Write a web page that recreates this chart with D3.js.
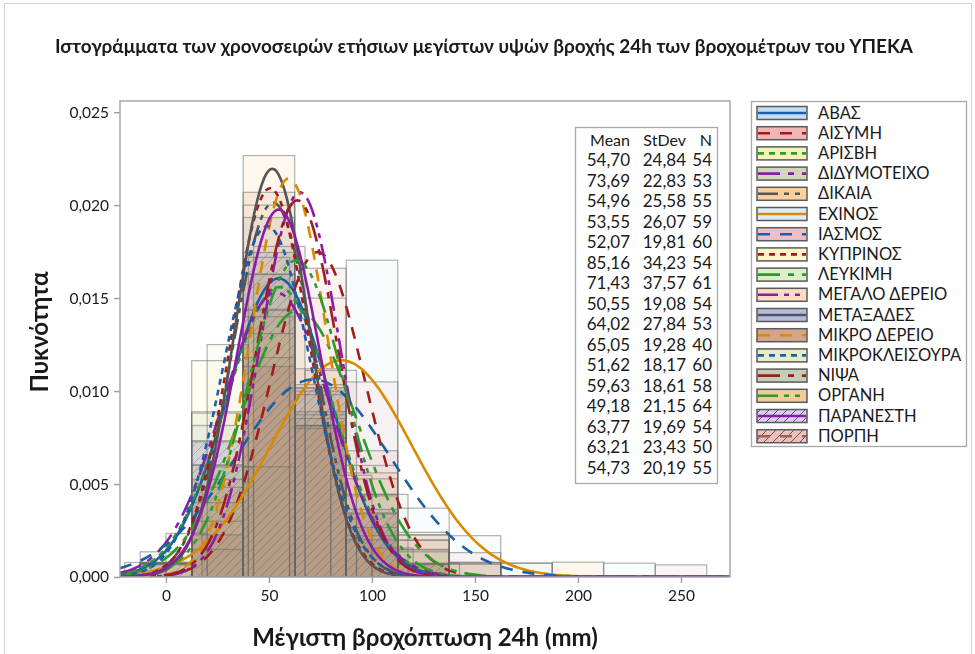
<!DOCTYPE html>
<html>
<head>
<meta charset="utf-8">
<script src="https://cdn.jsdelivr.net/npm/d3@7"></script>
<style>
  body { margin: 0; background: #fff; }
  text { font-family: Lato, "Open Sans", sans-serif; fill: #1a1a1a; }
</style>
</head>
<body>
<svg id="chart" width="975" height="654"></svg>
<script>
// Stations (legend order) and their summary statistics (table order)
const stations = ["ΑΒΑΣ", "ΑΙΣΥΜΗ", "ΑΡΙΣΒΗ", "ΔΙΔΥΜΟΤΕΙΧΟ", "ΔΙΚΑΙΑ", "ΕΧΙΝΟΣ", "ΙΑΣΜΟΣ",
    "ΚΥΠΡΙΝΟΣ", "ΛΕΥΚΙΜΗ", "ΜΕΓΑΛΟ ΔΕΡΕΙΟ", "ΜΕΤΑΞΑΔΕΣ", "ΜΙΚΡΟ ΔΕΡΕΙΟ", "ΜΙΚΡΟΚΛΕΙΣΟΥΡΑ",
    "ΝΙΨΑ", "ΟΡΓΑΝΗ", "ΠΑΡΑΝΕΣΤΗ", "ΠΟΡΠΗ"];
const means  = [54.70, 73.69, 54.96, 53.55, 52.07, 85.16, 71.43, 50.55, 64.02, 65.05, 51.62, 59.63, 49.18, 63.77, 63.21, 54.73];
const stdevs = [24.84, 22.83, 25.58, 26.07, 19.81, 34.23, 37.57, 19.08, 27.84, 19.28, 18.17, 18.61, 21.15, 19.69, 23.43, 20.19];
const ns     = [54, 53, 55, 59, 60, 54, 61, 54, 53, 40, 60, 58, 64, 54, 50, 55];

const binStarts = [-12.5, -12.5, -12.5, -12.5, -12.5, -12.5, -12.5, -12.5, -12.5, -12.5, -12.5, -12.5, -20, -7.5, -12.5, -12.5];
const binWidths = [25, 25, 25, 25, 25, 25, 25, 25, 25, 25, 25, 25, 20, 25, 25, 25];
const counts = [
    [1, 11, 22, 12, 6, 2],
    [0, 3, 15, 22, 9, 3, 1],
    [1, 16, 18, 12, 6, 2],
    [2, 13, 24, 12, 5, 2, 1],
    [1, 9, 34, 12, 3, 1],
    [0, 2, 8, 11, 23, 5, 3, 1, 0, 1],
    [0, 8, 18, 13, 16, 3, 2, 0, 0, 0, 1],
    [1, 12, 27, 11, 3],
    [1, 8, 19, 13, 7, 3, 1, 1],
    [0, 3, 14, 15, 6, 2],
    [1, 11, 29, 15, 4],
    [0, 7, 30, 15, 5, 1],
    [1, 3, 16, 22, 13, 7, 2],
    [0, 8, 24, 15, 6, 1],
    [1, 5, 18, 14, 7, 3, 1, 0, 1],
    [1, 10, 24, 14, 5, 1]
];

const xTicks = [0, 50, 100, 150, 200, 250];
const yTicks = [0, 0.005, 0.010, 0.015, 0.020, 0.025];

// Minitab-like style cycle
const fillColors = ["#c6def2", "#f0b6b4", "#f5f2b8", "#d2d5b8", "#f9cf9c", "#dcecf5", "#eebfc6", "#fdf5c8",
    "#dcefc6", "#f9dcc6", "#b4bcdc", "#d4a58c", "#e6ecc6", "#c4cdb6", "#f0cc98", "#dccbf5", "#eec0bc"];
const lineColors = ["#1b5fa8", "#a11c1c", "#2c9a2c", "#8b1ca8", "#555555", "#d98a00", "#1b5fa8", "#a11c1c",
    "#2c9a2c", "#8b1ca8", "#555555", "#d98a00", "#1b5fa8", "#a11c1c", "#2c9a2c", "#8b1ca8", "#a06050"];
const dashes = [null, "12,10", "6,5", "22,8,6,8", "20,6,5,6,5,6", null, "12,10", "6,5",
    "22,8,6,8", "20,6,5,6,5,6", null, "12,10", "6,5", "22,8,6,8", "20,6,5,6,5,6", null, "12,10"];
const hatched = [15, 16];

const svg = d3.select("#chart");
const fmt = d => d3.format(".3f")(d).replace(".", ",");

// outer frame
svg.append("rect").attr("x", 4.5).attr("y", 3.5).attr("width", 967).attr("height", 670)
    .attr("fill", "none").attr("stroke", "#d4d4d4");

svg.append("text")
    .attr("x", 484).attr("y", 53)
    .attr("text-anchor", "middle")
    .attr("textLength", 858).attr("lengthAdjust", "spacingAndGlyphs")
    .style("font-size", "18px").style("font-weight", "bold")
    .text("Ιστογράμματα των χρονοσειρών ετήσιων μεγίστων υψών βροχής 24h των βροχομέτρων του ΥΠΕΚΑ");

const plot = { left: 120, right: 730, top: 101, bottom: 577 };
const x = d3.scaleLinear().domain([-22.3, 273.8]).range([plot.left, plot.right]);
const y = d3.scaleLinear().domain([0, 0.0256]).range([plot.bottom, plot.top]);

const defs = svg.append("defs");
defs.append("clipPath").attr("id", "plotClip").append("rect")
    .attr("x", plot.left).attr("y", plot.top)
    .attr("width", plot.right - plot.left).attr("height", plot.bottom - plot.top);

hatched.forEach(i => {
    const p = defs.append("pattern").attr("id", "hatch-" + i)
        .attr("patternUnits", "userSpaceOnUse").attr("width", 9).attr("height", 9);
    p.append("rect").attr("width", 9).attr("height", 9).attr("fill", fillColors[i]);
    p.append("path").attr("d", "M-1,10 L10,-1 M-3,3 L3,-3 M6,12 L12,6")
        .attr("stroke", "#5a5a5a").attr("stroke-width", 1);
});

const fillFor = i => hatched.includes(i) ? `url(#hatch-${i})` : fillColors[i];

const g = svg.append("g").attr("clip-path", "url(#plotClip)");
const histG = g.append("g").style("isolation", "isolate");
const edgeG = g.append("g");

// histograms: fills multiplied like stacked transparent graphs, outlines on top
means.forEach((m, i) => {
    const bins = counts[i].map((c, k) => ({
        x0: binStarts[i] + k * binWidths[i],
        x1: binStarts[i] + (k + 1) * binWidths[i],
        dens: c / (ns[i] * binWidths[i])
    })).filter(b => b.dens > 0);

    const place = sel => sel
        .attr("x", b => x(b.x0))
        .attr("y", b => y(b.dens))
        .attr("width", b => x(b.x1) - x(b.x0))
        .attr("height", b => y(0) - y(b.dens));

    histG.append("g").style("mix-blend-mode", "multiply")
        .selectAll("rect").data(bins).join("rect")
        .call(place)
        .attr("fill", fillFor(i))
        .attr("fill-opacity", hatched.includes(i) ? 0.35 : 0.17);

    edgeG.append("g").selectAll("rect").data(bins).join("rect")
        .call(place)
        .attr("fill", "none")
        .attr("stroke", "#666")
        .attr("stroke-opacity", 0.5)
        .attr("stroke-width", 1.2);
});

// fitted normal curves
const xs = d3.range(-22.3, 274, 1);
const line = d3.line().x(d => x(d[0])).y(d => y(d[1]));
means.forEach((m, i) => {
    const s = stdevs[i];
    const pts = xs.map(v => [v, Math.exp(-0.5 * ((v - m) / s) ** 2) / (s * Math.sqrt(2 * Math.PI))]);
    g.append("path")
        .attr("d", line(pts))
        .attr("fill", "none")
        .attr("stroke", lineColors[i])
        .attr("stroke-width", 2.6)
        .attr("stroke-dasharray", dashes[i]);
});

// plot frame & axes
svg.append("rect")
    .attr("x", plot.left).attr("y", plot.top)
    .attr("width", plot.right - plot.left).attr("height", plot.bottom - plot.top)
    .attr("fill", "none").attr("stroke", "#a8a8a8").attr("stroke-width", 1.5);

const xAxis = svg.append("g").attr("transform", `translate(0,${plot.bottom})`)
    .call(d3.axisBottom(x).tickValues(xTicks).tickSize(6).tickPadding(7));
const yAxis = svg.append("g").attr("transform", `translate(${plot.left},0)`)
    .call(d3.axisLeft(y).tickValues(yTicks).tickFormat(fmt).tickSize(6).tickPadding(5));
[xAxis, yAxis].forEach(a => {
    a.select(".domain").remove();
    a.selectAll("line").attr("stroke", "#a0a0a0").attr("stroke-width", 1.5);
    a.selectAll("text").style("font-size", "15.5px").style("font-family", "Lato, sans-serif").attr("fill", "#1a1a1a");
});

svg.append("text")
    .attr("x", 425).attr("y", 646)
    .attr("text-anchor", "middle")
    .style("font-size", "24px").style("font-weight", "bold")
    .text("Μέγιστη βροχόπτωση 24h (mm)");

svg.append("text")
    .attr("transform", "translate(48,332) rotate(-90)")
    .attr("text-anchor", "middle")
    .style("font-size", "24px").style("font-weight", "bold")
    .text("Πυκνότητα");

// statistics table
const tbl = svg.append("g");
tbl.append("rect").attr("x", 575.5).attr("y", 127.5).attr("width", 142).attr("height", 356)
    .attr("fill", "#fff").attr("stroke", "#a8a8a8").attr("stroke-width", 1.3);
const cols = [630, 686, 712];
["Mean", "StDev", "N"].forEach((h, c) => {
    tbl.append("text").attr("x", cols[c]).attr("y", 146).attr("text-anchor", "end")
        .style("font-size", "16px").text(h);
});
means.forEach((m, i) => {
    const rowY = 166 + i * 20.5;
    [m.toFixed(2).replace(".", ","), stdevs[i].toFixed(2).replace(".", ","), ns[i]].forEach((v, c) => {
        tbl.append("text").attr("x", cols[c]).attr("y", rowY).attr("text-anchor", "end")
            .style("font-size", "17px").text(v);
    });
});

// legend
const leg = { left: 751, top: 101, right: 966, bottom: 446 };
defs.append("clipPath").attr("id", "legClip").append("rect")
    .attr("x", leg.left).attr("y", leg.top).attr("width", leg.right - leg.left).attr("height", leg.bottom - leg.top);
svg.append("rect").attr("x", leg.left + 0.5).attr("y", leg.top + 0.5)
    .attr("width", leg.right - leg.left).attr("height", leg.bottom - leg.top)
    .attr("fill", "#fff").attr("stroke", "#a8a8a8").attr("stroke-width", 1.3);
const lg = svg.append("g").attr("clip-path", "url(#legClip)");
stations.forEach((name, i) => {
    const cy = 113 + i * 20.2;
    lg.append("rect").attr("x", 757).attr("y", cy - 6.5).attr("width", 50).attr("height", 13)
        .attr("fill", fillFor(i)).attr("stroke", "#5a5a5a").attr("stroke-width", 1.5);
    lg.append("line").attr("x1", 758).attr("x2", 806).attr("y1", cy).attr("y2", cy)
        .attr("stroke", lineColors[i]).attr("stroke-width", 2.6).attr("stroke-dasharray", dashes[i]);
    lg.append("text").attr("x", 818).attr("y", cy + 5.5)
        .style("font-size", "16.5px").text(name);
});
</script>
</body>
</html>
